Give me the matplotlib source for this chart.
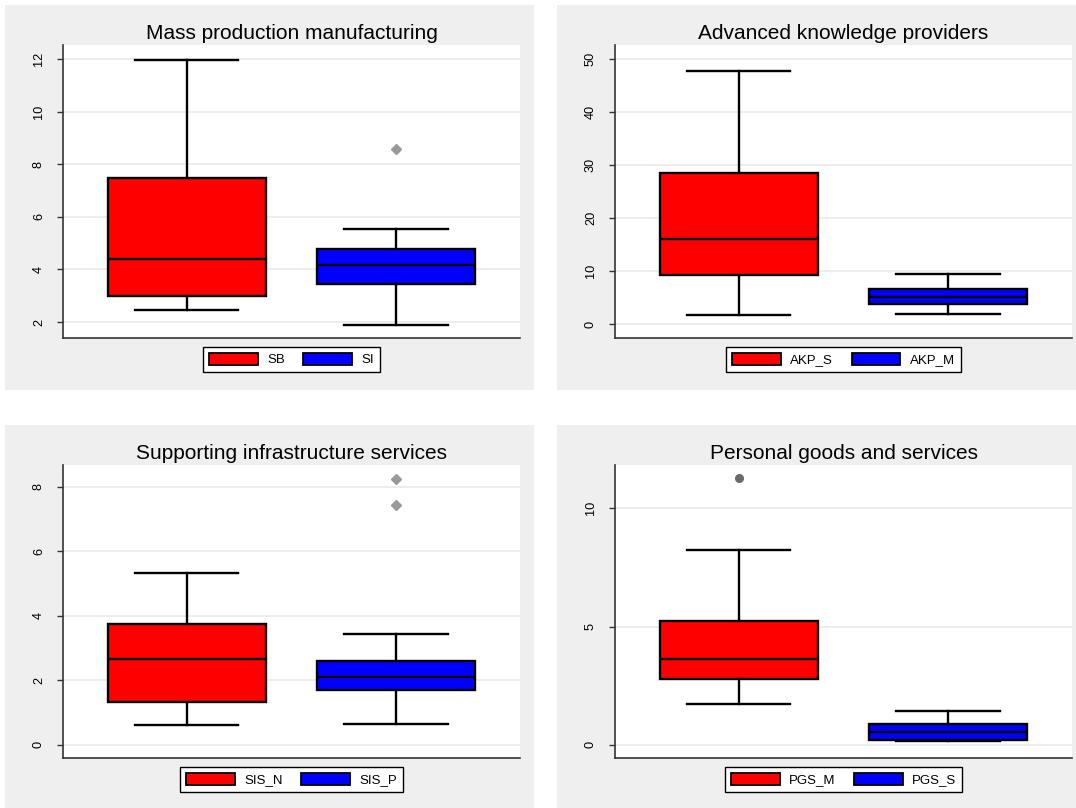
import matplotlib
matplotlib.use("Agg")
import matplotlib.pyplot as plt
from matplotlib.patches import Patch, Rectangle

plt.rcParams['font.family'] = ['Liberation Sans', 'DejaVu Sans']

W, H = 1076, 808

# data (quartiles, whiskers, outside values)
titles = ["Mass production manufacturing", "Advanced knowledge providers",
          "Supporting infrastructure services", "Personal goods and services"]
groups = [["SB", "SI"], ["AKP_S", "AKP_M"], ["SIS_N", "SIS_P"], ["PGS_M", "PGS_S"]]
whislo = [[2.47, 1.90], [1.8, 1.9], [0.60, 0.64], [1.73, 0.14]]
q1 = [[2.98, 3.43], [9.2, 3.8], [1.34, 1.71], [2.79, 0.20]]
med = [[4.41, 4.16], [16.0, 5.2], [2.66, 2.10], [3.62, 0.55]]
q3 = [[7.46, 4.79], [28.55, 6.7], [3.73, 2.59], [5.25, 0.88]]
whishi = [[11.95, 5.55], [47.7, 9.5], [5.33, 3.43], [8.24, 1.44]]
fliers = [[[], [8.56]], [[], []], [[], [8.24, 7.43]], [[11.26], []]]
yticks = [[2, 4, 6, 8, 10, 12], [0, 10, 20, 30, 40, 50], [0, 2, 4, 6, 8], [0, 5, 10]]
ylims = [(1.39, 12.53), (-2.58, 52.58), (-0.41, 8.67), (-0.56, 11.83)]

colors = ["#ff0000", "#0000ff"]
flier_style = [("D", "#999999"), ("D", "#999999"), ("D", "#999999"), ("o", "#6a6a6a")]

bg_rects = [(5, 5, 534, 390), (557, 5, 1076, 390), (5, 425, 534, 808), (557, 425, 1076, 808)]
ax_rects = [(63, 45, 520, 338), (615, 45, 1072, 338), (63, 465, 520, 758), (615, 465, 1072, 758)]


def frac(r):
    x0, y0, x1, y1 = r
    return [x0 / W, 1 - y1 / H, (x1 - x0) / W, (y1 - y0) / H]


fig = plt.figure(figsize=(W / 100, H / 100), dpi=100)

for i in range(4):
    b = frac(bg_rects[i])
    fig.add_artist(Rectangle((b[0], b[1]), b[2], b[3], transform=fig.transFigure,
                             facecolor="#efefef", edgecolor="none", zorder=-5))

    ax = fig.add_axes(frac(ax_rects[i]))
    ax.set_facecolor("white")

    stats = []
    for j in range(2):
        stats.append(dict(med=med[i][j], q1=q1[i][j], q3=q3[i][j],
                          whislo=whislo[i][j], whishi=whishi[i][j],
                          fliers=fliers[i][j], label=groups[i][j]))
    mk, mc = flier_style[i]
    bp = ax.bxp(stats, positions=[1, 2], widths=0.755, patch_artist=True,
                showfliers=True, capwidths=0.494,
                boxprops=dict(edgecolor="black", linewidth=1.7),
                medianprops=dict(color="black", linewidth=1.7),
                whiskerprops=dict(color="black", linewidth=1.7),
                capprops=dict(color="black", linewidth=1.7),
                flierprops=dict(marker=mk, markerfacecolor=mc, markeredgecolor=mc,
                                markersize=5.5))
    for patch, c in zip(bp["boxes"], colors):
        patch.set_facecolor(c)

    ax.set_xlim(0.41, 2.591)
    ax.set_ylim(*ylims[i])
    ax.set_yticks(yticks[i])
    ax.set_xticks([])
    ax.yaxis.grid(True, color="#eaeaea", linewidth=1.2)
    ax.set_axisbelow(True)
    ax.tick_params(axis="y", length=4, width=1, color="#333333", labelsize=9.2, pad=9)
    for lab in ax.get_yticklabels():
        lab.set_rotation(90)
        lab.set_va("center")
    for s in ["top", "right"]:
        ax.spines[s].set_visible(False)
    for s in ["left", "bottom"]:
        ax.spines[s].set_color("#333333")
        ax.spines[s].set_linewidth(1.2)

    ax.set_title(titles[i], fontsize=15, pad=4.5)

    handles = [Patch(facecolor=colors[j], edgecolor="black", linewidth=1.3, label=groups[i][j])
               for j in range(2)]
    leg = ax.legend(handles=handles, loc="upper center", bbox_to_anchor=(0.5, -9 / 293),
                    ncol=2, fontsize=9.5, frameon=True, fancybox=False, edgecolor="black",
                    framealpha=1, handlelength=3.7, handleheight=1.0, handletextpad=0.7,
                    columnspacing=1.4, borderaxespad=0, borderpad=0.45)
    leg.get_frame().set_linewidth(1.0)

fig.savefig("out.png", dpi=100)
